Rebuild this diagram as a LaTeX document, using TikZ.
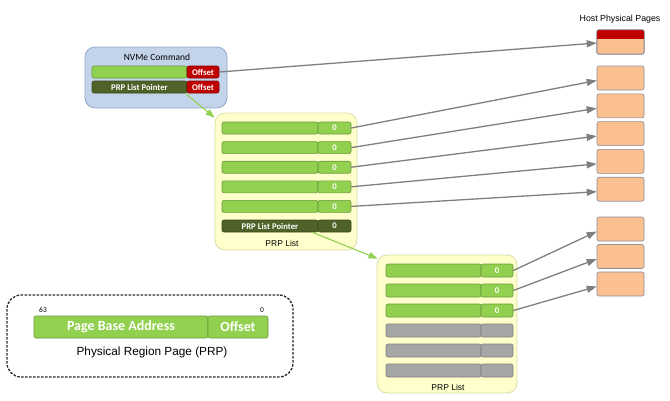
\documentclass[tikz,border=0pt]{standalone}
\usepackage{fontspec}
\setmainfont{Liberation Sans}
\newfontfamily\calib{Carlito}
\usetikzlibrary{arrows.meta}
\definecolor{lgfill}{HTML}{92D050}
\definecolor{lgdraw}{HTML}{6A9A3A}
\definecolor{dgfill}{HTML}{4F6228}
\definecolor{dgdraw}{HTML}{3A481C}
\definecolor{rdfill}{HTML}{C00000}
\definecolor{rddraw}{HTML}{8C0000}
\definecolor{gyfill}{HTML}{A6A6A6}
\definecolor{gydraw}{HTML}{7F7F7F}
\definecolor{peach}{HTML}{FAC090}
\definecolor{pagebd}{HTML}{8C8C9C}
\definecolor{cmdfill}{HTML}{C3D4EA}
\definecolor{cmddraw}{HTML}{8FA8C8}
\definecolor{listfill}{HTML}{FFFFCC}
\definecolor{listdraw}{HTML}{DCDCA8}
\definecolor{arrgray}{HTML}{7F7F7F}
\definecolor{ptrgreen}{HTML}{92D050}
\tikzset{
  bar/.style={rounded corners=2pt, minimum height=12pt, inner sep=0pt, text=white,
    font=\calib\bfseries\fontsize{8.7}{9}\selectfont, line width=0.6pt},
  lg/.style={bar, fill=lgfill, draw=lgdraw},
  dg/.style={bar, fill=dgfill, draw=dgdraw},
  rd/.style={bar, fill=rdfill, draw=rddraw},
  gy/.style={bar, fill=gyfill, draw=gydraw},
  hpage/.style={draw=pagebd, fill=peach, rounded corners=2pt, minimum width=47pt,
    minimum height=24pt, inner sep=0pt, line width=0.6pt},
  listbox/.style={draw=listdraw, fill=listfill, rounded corners=10pt, inner sep=0pt, line width=0.8pt},
  link/.style={draw=arrgray, line width=1.3pt, -{Triangle[length=10pt,width=7pt]}},
  ptrlink/.style={draw=ptrgreen, line width=1.1pt, -{Triangle[length=9pt,width=6.5pt]}},
  lbl/.style={inner sep=0pt, font=\fontsize{8.5}{10}\selectfont}
}
\begin{document}
\begin{tikzpicture}[x=1pt,y=-1pt]
\useasboundingbox (0,0) rectangle (670,400);
% NVMe command
\node[draw=cmddraw, fill=cmdfill, rounded corners=10pt, minimum width=142pt, minimum height=61pt, inner sep=0pt, line width=0.8pt] (cmd) at (156,77.5) {};
\node[lbl, font=\calib\fontsize{9.5}{10}\selectfont] (cmdt) at (157,57) {NVMe Command};
\node[lg, minimum width=95pt] (ca) at (139.5,72) {};
\node[rd, minimum width=32pt] (cb) at (203,72) {Offset};
\node[dg, minimum width=95pt] (pa) at (139.5,87) {PRP List Pointer};
\node[rd, minimum width=32pt] (pb) at (203,87) {Offset};
% PRP list 1
\node[listbox, minimum width=142pt, minimum height=137pt] (list1) at (286,181.5) {};
\foreach \i in {1,...,5}{
  \node[lg, minimum width=96pt] (la\i) at (270,{128+19.6*(\i-1)}) {};
  \node[lg, minimum width=33pt] (lb\i) at (334.5,{128+19.6*(\i-1)}) {0};
}
\node[dg, minimum width=96pt] (la6) at (270,226) {PRP List Pointer};
\node[dg, minimum width=33pt] (lb6) at (334.5,226) {0};
\node[lbl] (l1t) at (282,243) {PRP List};
% PRP list 2
\node[listbox, minimum width=140pt, minimum height=138pt] (list2) at (447,324) {};
\foreach \i in {1,...,3}{
  \node[lg, minimum width=95pt, minimum height=13pt] (ma\i) at (433.5,{270.5+20*(\i-1)}) {};
  \node[lg, minimum width=32pt, minimum height=13pt] (mb\i) at (497,{270.5+20*(\i-1)}) {0};
}
\foreach \i in {4,...,6}{
  \node[gy, minimum width=95pt, minimum height=13pt] (ma\i) at (433.5,{270.5+20*(\i-1)}) {};
  \node[gy, minimum width=32pt, minimum height=13pt] (mb\i) at (497,{270.5+20*(\i-1)}) {};
}
\node[lbl] (l2t) at (448,387) {PRP List};
% Host pages
\node[lbl, font=\fontsize{8.8}{10}\selectfont] (hpt) at (620,19) {Host Physical Pages};
\node[hpage] (p1) at (620.5,42) {};
\begin{scope}
  \clip[rounded corners=2pt] (p1.north west) rectangle (p1.south east);
  \fill[rdfill] (p1.north west) rectangle ([yshift=-9pt]p1.north east);
\end{scope}
\draw[pagebd, line width=0.6pt, rounded corners=2pt] (p1.north west) rectangle (p1.south east);
\node[hpage] (p2) at (620.5,78) {};
\node[hpage] (p3) at (620.5,105.8) {};
\node[hpage] (p4) at (620.5,133.6) {};
\node[hpage] (p5) at (620.5,161.4) {};
\node[hpage] (p6) at (620.5,189.2) {};
\node[hpage] (p7) at (620.5,229) {};
\node[hpage] (p8) at (620.5,256.5) {};
\node[hpage] (p9) at (620.5,284) {};
% arrows
\draw[link] (cb.east) -- ([yshift=-1pt]p1.west);
\foreach \i/\j in {1/2,2/3,3/4,4/5,5/6}{
  \draw[link] (lb\i.east) -- ([yshift=-2.5pt]p\j.west);
}
\foreach \i/\j in {1/7,2/8,3/9}{
  \draw[link] (mb\i.east) -- ([yshift=-2.5pt]p\j.west);
}
\draw[ptrlink] ([xshift=-2pt]pa.south east) -- ([shift={(0pt,-5pt)}]list1.north west);
\draw[ptrlink] ([xshift=-6pt]la6.south east) -- ([shift={(1pt,-4pt)}]list2.north west);
% legend
\node[draw=black!85, dash pattern=on 2.5pt off 1.5pt, line width=1.3pt, rounded corners=14pt, minimum width=286pt, minimum height=82pt, inner sep=0pt] (leg) at (150,336) {};
\node[lbl, font=\calib\fontsize{7.5}{8}\selectfont] (b63) at (43,310) {63};
\node[lbl, font=\calib\fontsize{7.5}{8}\selectfont] (b0) at (262,310) {0};
\node[lg, minimum width=174pt, minimum height=22pt, font=\calib\bfseries\fontsize{14}{15}\selectfont] (pba) at (121,327) {Page Base Address};
\node[lg, minimum width=60pt, minimum height=22pt, font=\calib\bfseries\fontsize{14}{15}\selectfont] (pof) at (238,327) {Offset};
\node[lbl, font=\fontsize{11.8}{13}\selectfont] (prpt) at (152,352) {Physical Region Page (PRP)};
\end{tikzpicture}
\end{document}
